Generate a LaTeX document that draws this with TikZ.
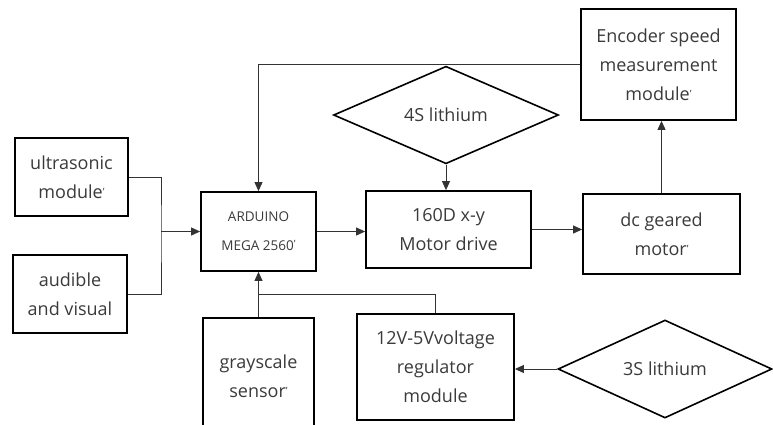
\documentclass[tikz,border=0pt]{standalone}
\usepackage{fontspec}
\setmainfont{Open Sans}
\usepackage{tikz}
\usetikzlibrary{arrows.meta,positioning,shapes.geometric,calc}
\definecolor{Ink}{HTML}{000000}
\definecolor{Txt}{HTML}{3A3A3A}
\tikzset{
 block/.style={draw=Ink,line width=1.8pt,align=center,text=Txt,
   font=\fontsize{18}{29}\selectfont,inner sep=2pt},
 battery/.style={diamond,draw=Ink,line width=1.6pt,text=Txt,inner sep=0pt,
   font=\fontsize{18}{29}\selectfont},
 link/.style={draw=Ink!80,line width=0.9pt},
 arr/.style={link,-{Triangle[length=9pt,width=8pt]}}
}
\newcommand{\mk}{{\fontsize{10}{10}\selectfont\raisebox{3pt}{'}}}
\begin{document}
\begin{tikzpicture}[x=1pt,y=-1pt]
\clip (0,0) rectangle (773,424);
% sensors on the left
\node[block,minimum width=113pt,minimum height=78pt] (ultra) at (71.5,177) {ultrasonic\\module\mk};
\node[block,minimum width=114pt,minimum height=78pt] (alarm) at (70,294) {audible\\and visual};
% controller and drive chain
\node[block,minimum width=115pt,minimum height=79pt,font=\fontsize{13.5}{29}\selectfont] (mega) at (258.5,231.5) {ARDUINO\\MEGA 2560\mk};
\node[block,minimum width=165pt,minimum height=77pt] (drive) at (448.5,229.5) {160D x-y\\Motor drive};
\node[block,minimum width=157pt,minimum height=80pt] (motor) at (661.5,234) {dc geared\\motor\mk};
\node[block,minimum width=155pt,minimum height=111pt] (enc) at (658.5,64.5) {Encoder speed\\measurement\\module\mk};
% bottom row
\node[block,minimum width=111pt,minimum height=116pt] (gray) at (258.5,376) {grayscale\\sensor\mk};
\node[block,minimum width=157pt,minimum height=106pt] (reg) at (435.5,367) {12V-5Vvoltage\\regulator\\module};
% batteries
\node[battery,minimum width=225pt,minimum height=87pt] (bat4) at (446,115) {4S lithium};
\node[battery,minimum width=214pt,minimum height=98pt] (bat3) at (665,369) {3S lithium};
\coordinate (jn) at (161,231.5);
\coordinate (tap) at (258.5,294);
\draw[link] (ultra.east) -| (jn) |- (alarm.east);
\draw[arr] (jn) -- (mega.west);
\draw[arr] (mega.east) -- (mega.east -| drive.west);
\draw[arr] (drive.east) -- (drive.east -| motor.west);
\draw[arr] (motor.north) -- (motor.north |- enc.south);
\draw[arr] (enc.west) -| (mega.north);
\draw[arr] (bat4.south) -- (bat4.south |- drive.north);
\draw[arr] (gray.north) -- (mega.south);
\draw[link] (reg.north) |- (tap);
\draw[arr] (bat3.west) -- (bat3.west -| reg.east);
\end{tikzpicture}
\end{document}
